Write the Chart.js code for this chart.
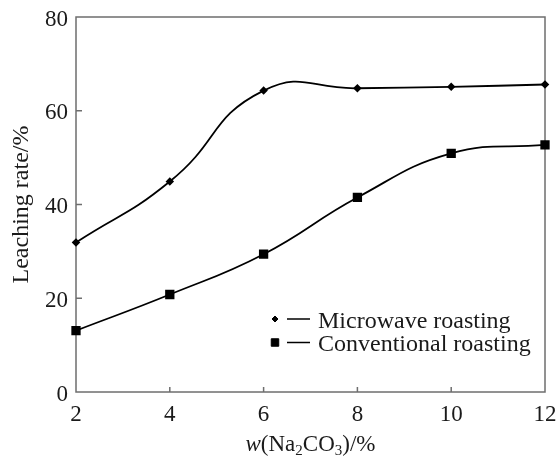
<!DOCTYPE html>
<html>
<head>
<meta charset="utf-8">
<script src="https://cdn.jsdelivr.net/npm/chart.js@4"></script>
<style>
html, body { margin: 0; padding: 0; background: #fff; }
#wrap { width: 558px; height: 457px; }
</style>
</head>
<body>
<div id="wrap"><canvas id="leachChart" width="558" height="457"></canvas></div>
<script>
// datos
const na2co3 = [2, 4, 6, 8, 10, 12];
const microwave = [31.9, 44.9, 64.3, 64.8, 65.1, 65.6];
const conventional = [13.1, 20.8, 29.4, 41.5, 50.9, 52.7];
const xTicks = [2, 4, 6, 8, 10, 12];
const yTicks = [0, 20, 40, 60, 80];
const seriesNames = ['Microwave roasting', 'Conventional roasting'];

const serif = '"Liberation Serif", "Times New Roman", serif';
const axisGrey = '#6e6e6e';

// marco, ticks interiores, titulos y leyenda
const framePlugin = {
    id: 'frame',
    beforeDatasetsDraw(chart) {
        const { ctx, chartArea: a, scales } = chart;
        ctx.save();
        ctx.strokeStyle = axisGrey;
        ctx.lineWidth = 1.5;
        ctx.strokeRect(a.left, a.top, a.right - a.left, a.bottom - a.top);
        ctx.beginPath();
        xTicks.slice(1, -1).forEach(v => {
            const px = scales.x.getPixelForValue(v);
            ctx.moveTo(px, a.bottom);
            ctx.lineTo(px, a.bottom - 5);
        });
        yTicks.slice(1, -1).forEach(v => {
            const py = scales.y.getPixelForValue(v);
            ctx.moveTo(a.left, py);
            ctx.lineTo(a.left + 6, py);
        });
        ctx.stroke();
        ctx.restore();
    },
    afterDraw(chart) {
        const { ctx, chartArea: a } = chart;
        ctx.save();
        ctx.fillStyle = '#1a1a1a';

        // titulo eje Y
        ctx.save();
        ctx.translate(28, (a.top + a.bottom) / 2);
        ctx.rotate(-Math.PI / 2);
        ctx.font = '24px ' + serif;
        ctx.textAlign = 'center';
        ctx.textBaseline = 'alphabetic';
        ctx.fillText('Leaching rate/%', 0, 0);
        ctx.restore();

        // titulo eje X con subindices
        const parts = [
            { t: 'w', f: 'italic 23px ' + serif, dy: 0 },
            { t: '(Na', f: '23px ' + serif, dy: 0 },
            { t: '2', f: '15px ' + serif, dy: 4 },
            { t: 'CO', f: '23px ' + serif, dy: 0 },
            { t: '3', f: '15px ' + serif, dy: 4 },
            { t: ')/%', f: '23px ' + serif, dy: 0 }
        ];
        let total = 0;
        parts.forEach(p => { ctx.font = p.f; p.w = ctx.measureText(p.t).width; total += p.w; });
        let x = (a.left + a.right) / 2 - total / 2;
        ctx.textAlign = 'left';
        ctx.textBaseline = 'alphabetic';
        parts.forEach(p => {
            ctx.font = p.f;
            ctx.fillText(p.t, x, 451 + p.dy);
            x += p.w;
        });

        // leyenda
        const rows = [
            { y: 319, style: 'rectRot', r: 3 },
            { y: 342.5, style: 'rect', r: 5.3 }
        ];
        ctx.font = '24px ' + serif;
        rows.forEach((row, i) => {
            ctx.fillStyle = '#000';
            ctx.strokeStyle = '#000';
            ctx.lineWidth = 1;
            Chart.helpers.drawPoint(ctx, { pointStyle: row.style, radius: row.r, borderWidth: 1 }, 275, row.y);
            ctx.beginPath();
            ctx.lineWidth = 1.5;
            ctx.moveTo(287, row.y);
            ctx.lineTo(310, row.y);
            ctx.stroke();
            ctx.fillStyle = '#1a1a1a';
            ctx.fillText(seriesNames[i], 318, row.y + 8.5);
        });
        ctx.restore();
    }
};

const ctx = document.getElementById('leachChart').getContext('2d');
new Chart(ctx, {
    type: 'line',
    data: {
        datasets: [
            {
                label: seriesNames[0],
                data: na2co3.map((v, i) => ({ x: v, y: microwave[i] })),
                borderColor: '#000',
                backgroundColor: '#000',
                borderWidth: 1.8,
                pointStyle: 'rectRot',
                pointRadius: 3,
                tension: 0.5,
                clip: false
            },
            {
                label: seriesNames[1],
                data: na2co3.map((v, i) => ({ x: v, y: conventional[i] })),
                borderColor: '#000',
                backgroundColor: '#000',
                borderWidth: 1.8,
                pointStyle: 'rect',
                pointRadius: 5.3,
                tension: 0.45,
                clip: false
            }
        ]
    },
    options: {
        responsive: false,
        animation: false,
        devicePixelRatio: 1,
        layout: { padding: { left: 0, right: 13, top: 17, bottom: 0 } },
        plugins: {
            legend: { display: false },
            tooltip: { enabled: false }
        },
        scales: {
            x: {
                type: 'linear',
                min: 2,
                max: 12,
                afterBuildTicks: s => { s.ticks = xTicks.map(v => ({ value: v })); },
                afterFit: s => { s.height = 65; s.paddingLeft = 0; s.paddingRight = 0; },
                grid: { display: false, drawTicks: false },
                border: { display: false },
                ticks: { font: { family: serif, size: 23 }, color: '#1a1a1a', padding: 9 }
            },
            y: {
                min: 0,
                max: 80,
                afterBuildTicks: s => { s.ticks = yTicks.map(v => ({ value: v })); },
                afterFit: s => { s.width = 76; s.paddingTop = 0; s.paddingBottom = 0; },
                grid: { display: false, drawTicks: false },
                border: { display: false },
                ticks: { font: { family: serif, size: 23 }, color: '#1a1a1a', padding: 8, labelOffset: 2.5 }
            }
        }
    },
    plugins: [framePlugin]
});
</script>
</body>
</html>
